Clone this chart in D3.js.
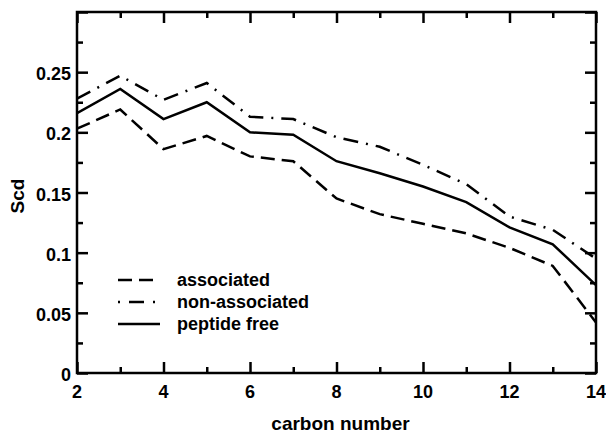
<!DOCTYPE html>
<html>
<head>
<meta charset="utf-8">
<script src="https://cdn.jsdelivr.net/npm/d3@7"></script>
<style>
  body { margin: 0; background: #fff; }
  svg text { font-family: "Liberation Sans", Arial, Helvetica, sans-serif; font-weight: bold; fill: #000; }
</style>
</head>
<body>
<div id="chart"></div>
<script>
// data
var carbon = [2, 3, 4, 5, 6, 7, 8, 9, 10, 11, 12, 13, 14];
var associated    = [0.203, 0.219, 0.186, 0.197, 0.180, 0.176, 0.145, 0.132, 0.124, 0.116, 0.104, 0.089, 0.042];
var nonAssociated = [0.228, 0.247, 0.227, 0.241, 0.213, 0.211, 0.196, 0.188, 0.173, 0.157, 0.130, 0.119, 0.095];
var peptideFree   = [0.216, 0.236, 0.211, 0.225, 0.200, 0.198, 0.176, 0.166, 0.155, 0.142, 0.121, 0.107, 0.073];

var xTicks = [2, 4, 6, 8, 10, 12, 14];
var yTicks = [0, 0.05, 0.1, 0.15, 0.2, 0.25];
var seriesNames = ["associated", "non-associated", "peptide free"];

var width = 606, height = 433;
var margin = { left: 77, top: 12, right: 10, bottom: 60 };
var w = width - margin.left - margin.right;   // 519
var h = height - margin.top - margin.bottom;  // 361

var svg = d3.select("#chart").append("svg")
    .attr("width", width).attr("height", height);

var g = svg.append("g").attr("transform", "translate(" + margin.left + "," + margin.top + ")");

var x = d3.scaleLinear().domain([2, 14]).range([0, w]);
var y = d3.scaleLinear().domain([0, 0.3]).range([h, 0]);

var fmt = function(d) { return d === 0 ? "0" : String(+d.toFixed(2)); };

// minor + major ticks on all four sides, pointing inward
var xMinor = d3.range(3, 14, 2);
var yMinor = d3.range(0.025, 0.3, 0.05);
var yMajorAll = yTicks.concat([0.3]);

function tickSide(axisFn, scale, vals, len) {
    return axisFn(scale).tickValues(vals).tickSize(len).tickFormat("");
}

// bottom
g.append("g").attr("class", "ax").attr("transform", "translate(0," + h + ")")
    .call(tickSide(d3.axisTop, x, xTicks, 11));
g.append("g").attr("class", "ax").attr("transform", "translate(0," + h + ")")
    .call(tickSide(d3.axisTop, x, xMinor, 6));
// top
g.append("g").attr("class", "ax")
    .call(tickSide(d3.axisBottom, x, xTicks, 11));
g.append("g").attr("class", "ax")
    .call(tickSide(d3.axisBottom, x, xMinor, 6));
// left
g.append("g").attr("class", "ax")
    .call(tickSide(d3.axisRight, y, yMajorAll, 11));
g.append("g").attr("class", "ax")
    .call(tickSide(d3.axisRight, y, yMinor, 6));
// right
g.append("g").attr("class", "ax").attr("transform", "translate(" + w + ",0)")
    .call(tickSide(d3.axisLeft, y, yMajorAll, 11));
g.append("g").attr("class", "ax").attr("transform", "translate(" + w + ",0)")
    .call(tickSide(d3.axisLeft, y, yMinor, 6));

g.selectAll(".ax .domain").remove();
g.selectAll(".ax line").attr("stroke", "#000").attr("stroke-width", 2.5);

// tick labels
g.selectAll(".xlab").data(xTicks).enter().append("text")
    .attr("class", "xlab")
    .attr("x", function(d) { return x(d); })
    .attr("y", h + 25)
    .attr("text-anchor", "middle")
    .attr("font-size", "18px")
    .text(function(d) { return d; });

g.selectAll(".ylab").data(yTicks).enter().append("text")
    .attr("class", "ylab")
    .attr("x", -6)
    .attr("y", function(d) { return y(d) + 8; })
    .attr("text-anchor", "end")
    .attr("font-size", "18px")
    .text(fmt);

// lines
var line = d3.line()
    .x(function(d) { return x(d[0]); })
    .y(function(d) { return y(d[1]); });

var series = [
    { name: seriesNames[0], values: associated, dash: "14,7" },
    { name: seriesNames[1], values: nonAssociated, dash: "15,8,2,8" },
    { name: seriesNames[2], values: peptideFree, dash: null }
];

g.append("defs").append("clipPath").attr("id", "clip")
    .append("rect").attr("width", w).attr("height", h);

series.forEach(function(s) {
    g.append("path")
        .datum(carbon.map(function(c, i) { return [c, s.values[i]]; }))
        .attr("d", line)
        .attr("clip-path", "url(#clip)")
        .attr("fill", "none")
        .attr("stroke", "#000")
        .attr("stroke-width", 2.5)
        .attr("stroke-linejoin", "miter")
        .attr("stroke-dasharray", s.dash);
});

// frame
g.append("rect")
    .attr("width", w).attr("height", h)
    .attr("fill", "none").attr("stroke", "#000").attr("stroke-width", 2.5);

// legend
var legend = g.append("g").attr("transform", "translate(41,268)");
var legendDash = ["14,7", "2,9,15,9", null];
series.forEach(function(s, i) {
    var row = legend.append("g").attr("transform", "translate(0," + (i * 22) + ")");
    row.append("line")
        .attr("x1", 0).attr("x2", 42)
        .attr("stroke", "#000").attr("stroke-width", 2.5)
        .attr("stroke-dasharray", legendDash[i]);
    row.append("text")
        .attr("x", 59).attr("y", 6)
        .attr("font-size", "18px")
        .text(s.name);
});

// axis titles
svg.append("text")
    .attr("x", margin.left + w / 2 + 4)
    .attr("y", 430)
    .attr("text-anchor", "middle")
    .attr("font-size", "19px")
    .text("carbon number");

svg.append("text")
    .attr("transform", "translate(24,196) rotate(-90)")
    .attr("text-anchor", "middle")
    .attr("font-size", "19px")
    .text("Scd");
</script>
</body>
</html>
